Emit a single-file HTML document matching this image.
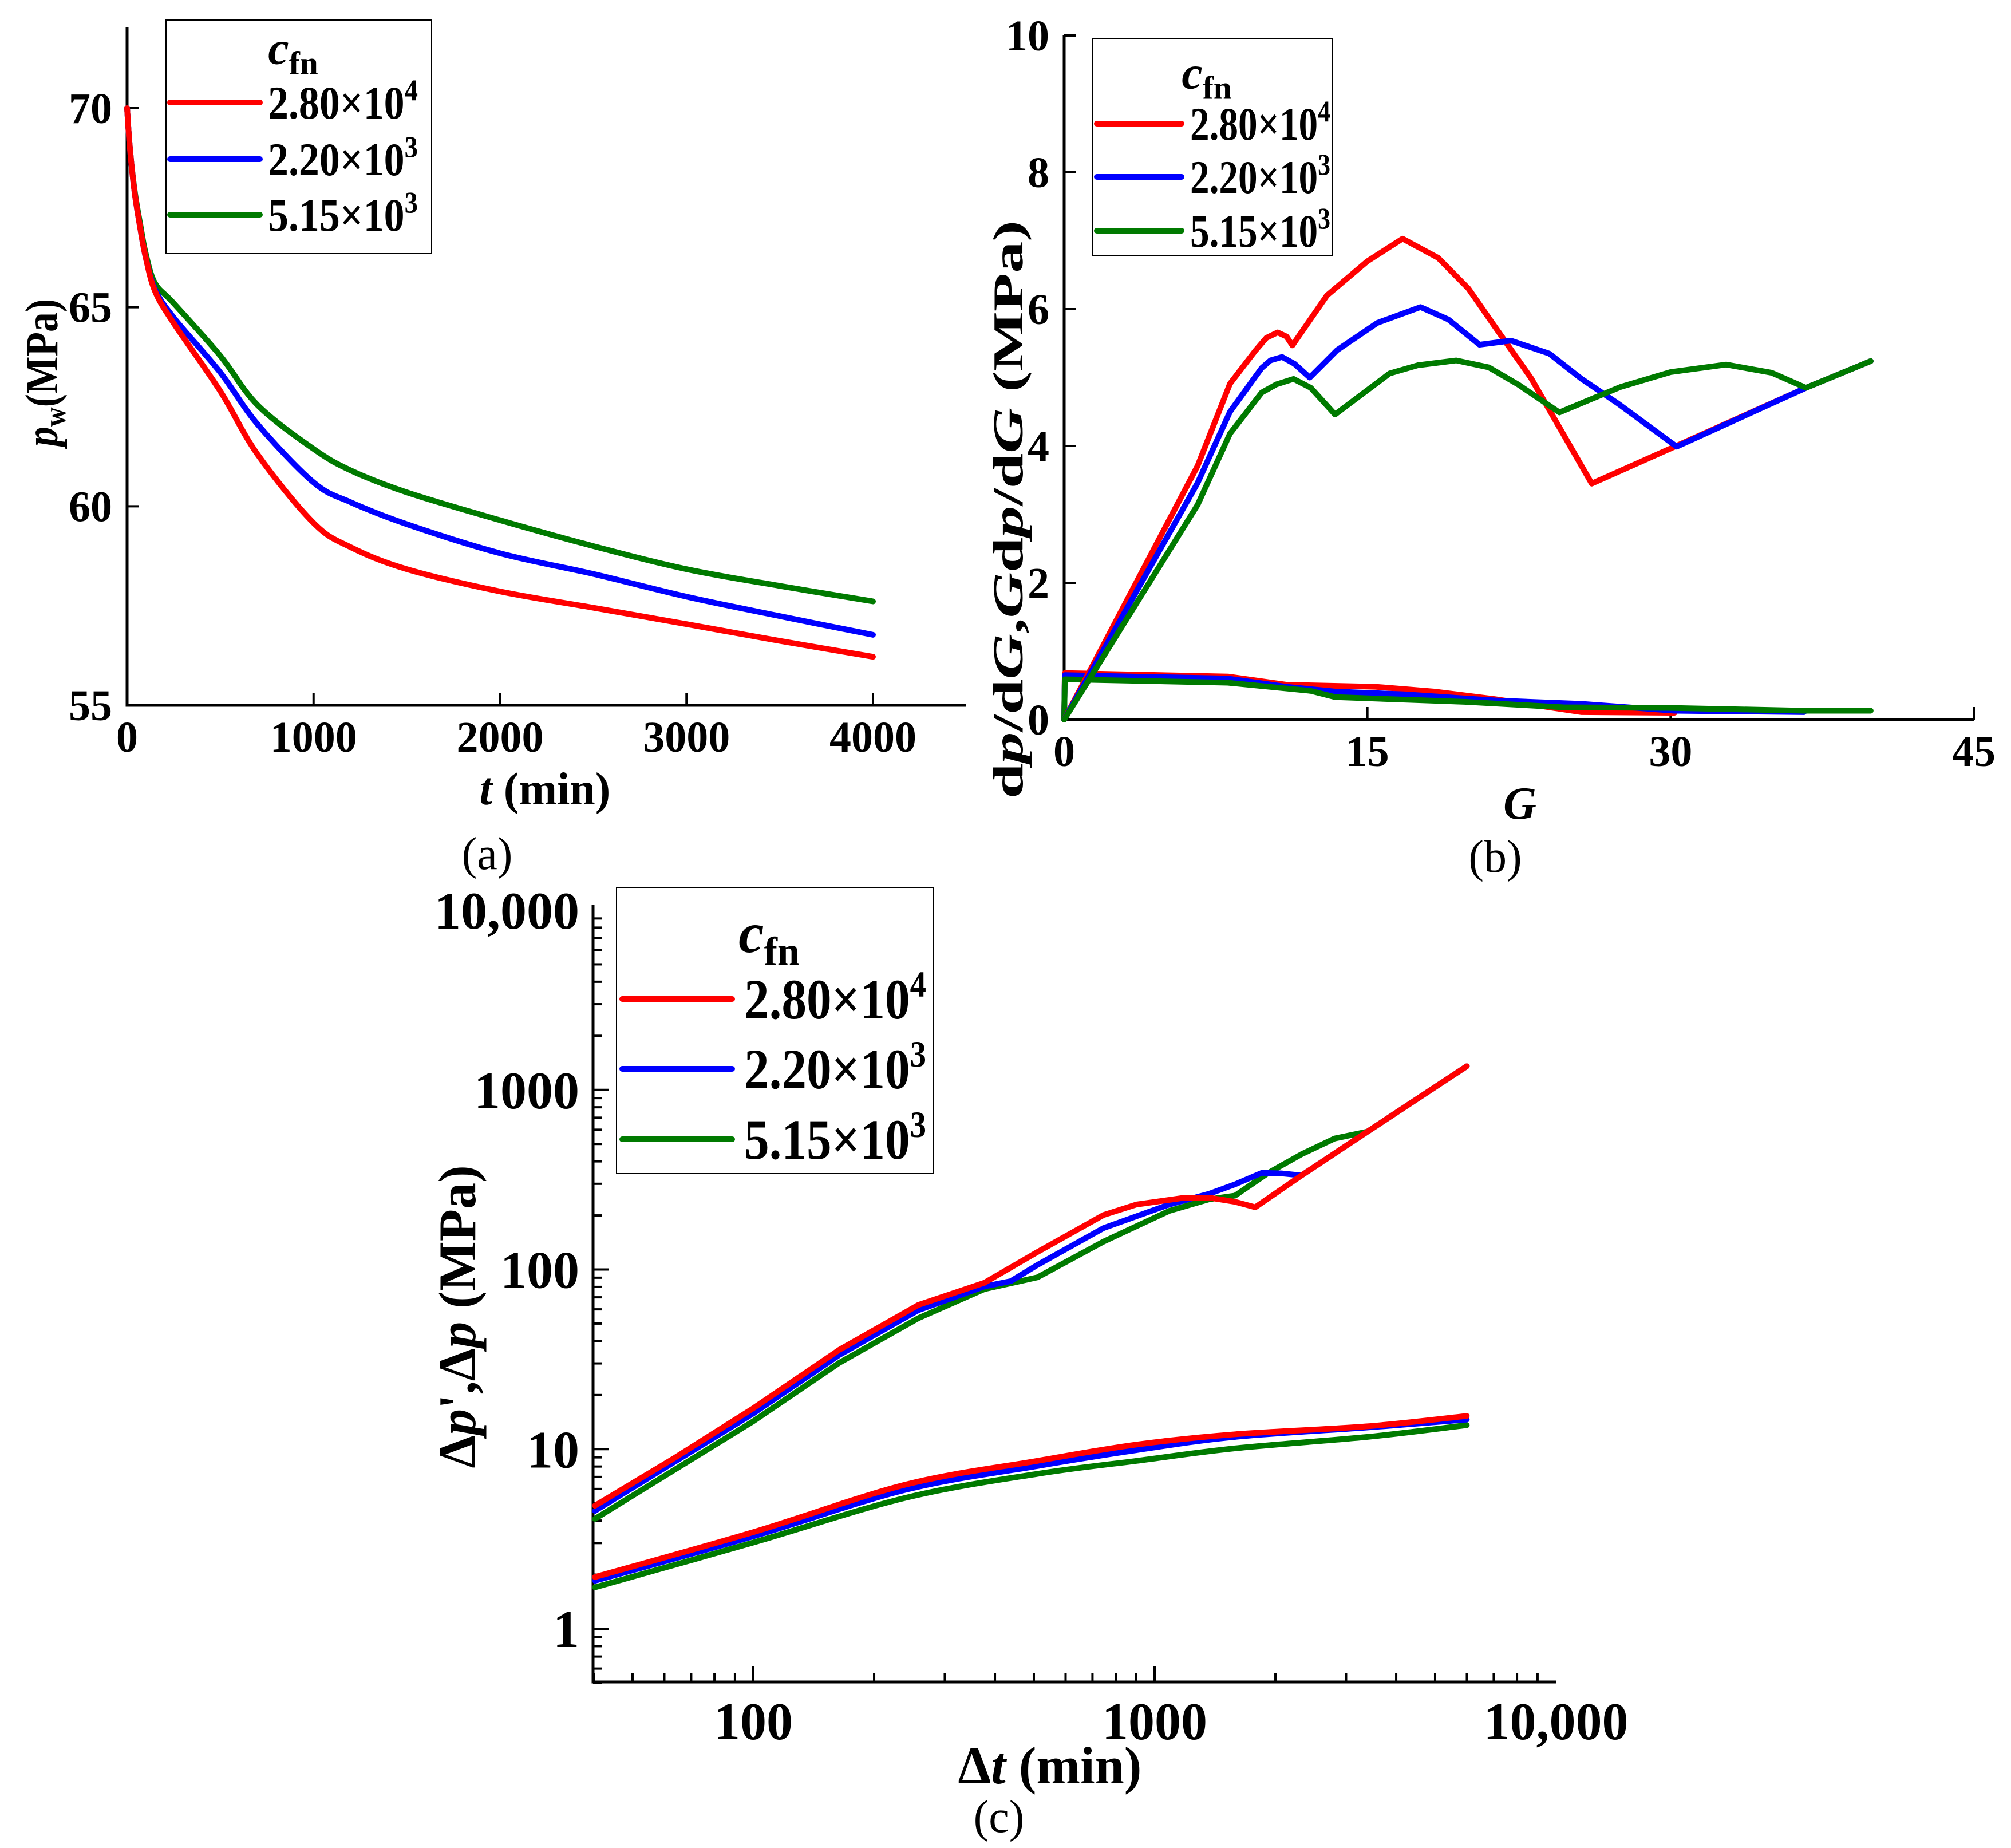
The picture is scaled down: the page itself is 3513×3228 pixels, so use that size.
<!DOCTYPE html>
<html><head><meta charset="utf-8"><style>
html,body{margin:0;padding:0;background:#fff}
svg{display:block;font-family:"Liberation Serif",serif;font-weight:bold}
</style></head><body>
<svg id="fig" width="3513" height="3228" viewBox="0 0 3513 3228" xmlns="http://www.w3.org/2000/svg">
<g id="pa"></g>
<g id="pb"></g>
<g id="pc"></g>
</svg>
<script>
// ---------- Panel (a) data ----------
const aT = [0,15,40,70,100,150,250,500,700,1000,1200,1500,2000,2500,3000,3500,4000];
const aRed = [70,69.0,67.9,67.0,66.25,65.4,64.6,62.89,61.3,59.58,58.97,58.42,57.86,57.45,57.04,56.62,56.22];
const aBlue = [70,69.0,67.9,67.0,66.25,65.45,64.74,63.36,62.06,60.6,60.1,59.55,58.82,58.3,57.73,57.24,56.77];
const aGreen = [70,69.0,67.95,67.1,66.35,65.6,65.1,63.78,62.54,61.44,60.9,60.35,59.65,59.0,58.42,58.0,57.61];
const aXTicks = [0,1000,2000,3000,4000];
const aYTicks = [55,60,65,70];
// ---------- Panel (b) data ----------
const bRedUpG = [0,6.6,8.2,9.45,10,10.56,11,11.29,13,15,16.74,18.5,20,21.2,23.1,26.1,30.2,36.7,39.9];
const bRedUp  = [0,3.71,4.91,5.39,5.58,5.66,5.6,5.47,6.2,6.7,7.03,6.75,6.3,5.79,4.99,3.45,3.99,4.85,5.24];
const bBlueUpG = [0,6.6,8.2,9.77,10.2,10.78,11.4,12.15,13.5,15.5,17.63,19,20.55,22.1,24,25.6,27.4,30.3,36.7,39.9];
const bBlueUp  = [0,3.46,4.5,5.14,5.25,5.3,5.2,5.0,5.4,5.8,6.03,5.85,5.48,5.54,5.35,4.98,4.62,3.99,4.85,5.24];
const bGreenUpG = [0,6.6,8.2,9.77,10.5,11.35,12.2,13.4,16.1,17.5,19.4,21,22.45,24.5,27.5,30,32.75,35,36.7,39.9];
const bGreenUp  = [0,3.14,4.18,4.78,4.9,4.98,4.85,4.46,5.06,5.18,5.25,5.15,4.9,4.49,4.86,5.08,5.19,5.07,4.85,5.24];
const bRedLoG = [0,0.03,8.1,11.0,15.4,18.3,21.3,25.6,30.2];
const bRedLo  = [0,0.68,0.63,0.51,0.48,0.41,0.30,0.11,0.10];
const bBlueLoG = [0,0.03,8.1,11.0,13.4,16.8,21.3,25.6,30.2,36.6];
const bBlueLo  = [0,0.65,0.60,0.48,0.41,0.37,0.28,0.23,0.13,0.11];
const bGreenLoG = [0,0.03,8.1,12.2,13.4,19.8,24.7,30.2,36.6,39.9];
const bGreenLo  = [0,0.59,0.54,0.42,0.33,0.26,0.18,0.17,0.13,0.13];
const bXTicks = [0,15,30,45];
const bYTicks = [0,2,4,6,8,10];
// ---------- Panel (c) data ----------
const cRedUpT = [40.3,63.5,100,163.7,257.9,376.9,510.1,745.7,901,1175,1368,1587,1782,2323,3394,5997];
const cRedUp  = [4.84,8.9,16.9,35.7,63.5,84.4,125,201,230,250,251,238,222,334,586,1355];
const cBlueUpT = [40.3,100,163.7,257.9,376.9,438,510.1,745.7,1088,1368,1587,1849,2070,2323,3394,5997];
const cBlueUp  = [4.53,15.8,33.4,59.4,80.5,86.1,106,170,230,264,298,345,343,334,586,1355];
const cGreenUpT = [40.3,100,163.7,257.9,376.9,510.1,745.7,1088,1368,1587,1920,2323,2809,3394,5997];
const cGreenUp  = [4.09,14.3,30.2,53.6,77.8,90.4,143,212,246,258,345,438,536,586,1355];
const cLoT = [40.3,100,240,510.1,901,1587,3394,5997];
const cRedLo = [1.94,3.45,6.35,8.6,10.6,12.1,13.4,15.3];
const cBlueLo = [1.85,3.27,5.94,8.05,9.87,11.7,13.2,14.6];
const cGreenLo = [1.70,3.02,5.36,7.28,8.6,10.1,11.7,13.6];
const cXTicks = [100,1000,10000];
const cXTickLabels = ["100","1000","10,000"];
const cYTicks = [1,10,100,1000,10000];
const cYTickLabels = ["1","10","100","1000","10,000"];
const legendLabels = [["2.80×10","4"],["2.20×10","3"],["5.15×10","3"]];
const colors = ["#ff0000","#0000ff","#007a00"];

const NS="http://www.w3.org/2000/svg";
function mk(tag,attrs,parent){const e=document.createElementNS(NS,tag);for(const k in attrs)e.setAttribute(k,attrs[k]);parent.appendChild(e);return e;}
function lin(d0,d1,r0,r1){return v=>r0+(v-d0)/(d1-d0)*(r1-r0);}
function logs(d0,d1,r0,r1){const a=Math.log10(d0),b=Math.log10(d1);return v=>r0+(Math.log10(v)-a)/(b-a)*(r1-r0);}
function series(g,xs,ys,sx,sy,color,name,smooth){
  const P=xs.map((x,i)=>[sx(x),sy(ys[i])]);
  let d='M'+P[0][0].toFixed(1)+' '+P[0][1].toFixed(1);
  for(let i=1;i<P.length;i++){
    if(smooth){
      const p0=P[Math.max(i-2,0)],p1=P[i-1],p2=P[i],p3=P[Math.min(i+1,P.length-1)];
      const c1=[p1[0]+(p2[0]-p0[0])/6,p1[1]+(p2[1]-p0[1])/6];
      const c2=[p2[0]-(p3[0]-p1[0])/6,p2[1]-(p3[1]-p1[1])/6];
      d+=` C${c1[0].toFixed(1)} ${c1[1].toFixed(1)} ${c2[0].toFixed(1)} ${c2[1].toFixed(1)} ${p2[0].toFixed(1)} ${p2[1].toFixed(1)}`;
    } else d+=' L'+P[i][0].toFixed(1)+' '+P[i][1].toFixed(1);
  }
  const p=mk('path',{d:d,fill:'none',stroke:color,'stroke-width':10,'stroke-linejoin':'round','stroke-linecap':'round'},g);
  
  
}
function txt(g,x,y,s,size,anchor,name,extra){
  const t=mk('text',Object.assign({x:x,y:y,'font-size':size,'text-anchor':anchor||'middle'},extra||{}),g);
  t.textContent=s;
  
  
  return t;
}
function legend(g,x0,y0,x1,y1,cfnY,lineYs,lx0,lx1,tx,fs,tl){
  const lg=mk('g',{},g);
  
  
  mk('rect',{x:x0,y:y0,width:x1-x0,height:y1-y0,fill:'#fff',stroke:'#000','stroke-width':2},lg);
  const c=mk('text',{x:(x0+x1)/2-10,y:cfnY+fs*0.25,'font-size':fs,'text-anchor':'middle','font-style':'italic'},lg);
  
  
  c.appendChild(document.createTextNode('c'));
  const sub=mk('tspan',{'font-size':fs*0.7,'font-style':'normal',dy:fs*0.22},c); sub.textContent='fn';
  lineYs.forEach((y,i)=>{
    const l=mk('line',{x1:lx0,y1:y,x2:lx1,y2:y,stroke:colors[i],'stroke-width':10,'stroke-linecap':'round'},lg);
    
    
    const t=mk('text',{x:tx,y:y+fs*0.34,'font-size':fs,textLength:tl,lengthAdjust:'spacingAndGlyphs'},lg);
    
    
    t.appendChild(document.createTextNode(legendLabels[i][0]));
    const s=mk('tspan',{'font-size':fs*0.65,dy:-fs*0.38},t); s.textContent=legendLabels[i][1];
  });
}
function axes(g,x0,y0,x1,yTop){
  mk('path',{d:`M${x0} ${yTop} L${x0} ${y0} L${x1} ${y0}`,fill:'none',stroke:'#000','stroke-width':5},g);
}
// ---------- Panel (a) ----------
(function(){
  const g=document.getElementById('pa');
  const sx=lin(0,4000,222,1525), sy=lin(55,70,1232,189);
  axes(g,222,1232,1688,48);
  aXTicks.forEach(v=>{mk('line',{x1:sx(v),y1:1232,x2:sx(v),y2:1210,stroke:'#000','stroke-width':4},g);
    txt(g,sx(v),1313,String(v),76,'middle','x-tick-label');});
  aYTicks.forEach(v=>{mk('line',{x1:222,y1:sy(v),x2:242,y2:sy(v),stroke:'#000','stroke-width':4},g);
    txt(g,196,sy(v)+26,String(v),76,'end','y-tick-label');});
  series(g,aT,aGreen,sx,sy,colors[2],'series-5.15e3',true);
  series(g,aT,aBlue,sx,sy,colors[1],'series-2.20e3',true);
  series(g,aT,aRed,sx,sy,colors[0],'series-2.80e4',true);
  const xl=txt(g,952,1405,'',80,'middle','x-axis-title');
  const it=mk('tspan',{'font-style':'italic'},xl); it.textContent='t'; xl.appendChild(document.createTextNode(' (min)'));
  const yl=txt(g,0,0,'',80,'middle','y-axis-title',{transform:'translate(100,651) rotate(-90)',textLength:258,lengthAdjust:'spacingAndGlyphs'});
  const p=mk('tspan',{'font-style':'italic'},yl); p.textContent='p';
  const w=mk('tspan',{'font-size':54,dy:14},yl); w.textContent='w';
  const m=mk('tspan',{dy:-14},yl); m.textContent='(MPa)';
  legend(g,290,35,754,443,91,[179,278,375],297,454,468,82,262);
  txt(g,851,1518,'(a)',80,'middle','panel-label-a',{'font-weight':'normal'});
})();
// ---------- Panel (b) ----------
(function(){
  const g=document.getElementById('pb');
  const sx=lin(0,45,1859,3448), sy=lin(0,10,1257,62);
  axes(g,1859,1257,3448,62);
  bXTicks.forEach(v=>{mk('line',{x1:sx(v),y1:1257,x2:sx(v),y2:1235,stroke:'#000','stroke-width':4},g);
    txt(g,sx(v),1338,String(v),76,'middle','x-tick-label');});
  bYTicks.forEach(v=>{mk('line',{x1:1859,y1:sy(v),x2:1879,y2:sy(v),stroke:'#000','stroke-width':4},g);
    txt(g,1833,sy(v)+26,String(v),76,'end','y-tick-label');});
  series(g,bRedLoG,bRedLo,sx,sy,colors[0],'dpdG-2.80e4');
  series(g,bBlueLoG,bBlueLo,sx,sy,colors[1],'dpdG-2.20e3');
  series(g,bGreenLoG,bGreenLo,sx,sy,colors[2],'dpdG-5.15e3');
  series(g,bRedUpG,bRedUp,sx,sy,colors[0],'Gdpdg-2.80e4');
  series(g,bBlueUpG,bBlueUp,sx,sy,colors[1],'Gdpdg-2.20e3');
  series(g,bGreenUpG,bGreenUp,sx,sy,colors[2],'Gdpdg-5.15e3');
  txt(g,2655,1430,'G',80,'middle','x-axis-title',{'font-style':'italic'});
  const yl=txt(g,0,0,'',74,'middle','y-axis-title',{transform:'translate(1786,890) rotate(-90)',textLength:1010,lengthAdjust:'spacingAndGlyphs'});
  [['d',0],['p',1],['/d',0],['G',1],[',',0],['G',1],['d',0],['p',1],['/d',0],['G',1],[' (MPa)',0]].forEach(([s,i])=>{
    const t=mk('tspan',i?{'font-style':'italic'}:{},yl); t.textContent=s;});
  legend(g,1909,67,2327,447,134,[216,309,403],1916,2064,2079,82,245);
  txt(g,2612,1523,'(b)',80,'middle','panel-label-b',{'font-weight':'normal'});
})();
// ---------- Panel (c) ----------
(function(){
  const g=document.getElementById('pc');
  const sx=logs(100,10000,1316,2718), sy=logs(1,10000,2845,1590);
  const y0=2938;
  axes(g,1036,y0,2718,1580);
  for(let dec=10;dec<=10000;dec*=10){for(let k=1;k<10;k++){const v=dec*k/10; if(v<40||v>10000)continue;
    const major=(k===1); mk('line',{x1:sx(v),y1:y0,x2:sx(v),y2:y0-(major?28:16),stroke:'#000','stroke-width':4},g);}}
  for(let dec=1;dec<=10000;dec*=10){for(let k=1;k<10;k++){const v=dec*k/10; if(v<0.5||v>10000)continue;
    const major=(k===1); mk('line',{x1:1036,y1:sy(v),x2:1036+(major?28:16),y2:sy(v),stroke:'#000','stroke-width':4},g);}}
  cXTicks.forEach((v,i)=>txt(g,sx(v),3038,cXTickLabels[i],92,'middle','x-tick-label'));
  cYTicks.forEach((v,i)=>txt(g,1012,sy(v)+32,cYTickLabels[i],92,'end','y-tick-label'));
  series(g,cLoT,cGreenLo,sx,sy,colors[2],'dp-5.15e3',true);
  series(g,cLoT,cBlueLo,sx,sy,colors[1],'dp-2.20e3',true);
  series(g,cLoT,cRedLo,sx,sy,colors[0],'dp-2.80e4',true);
  series(g,cGreenUpT,cGreenUp,sx,sy,colors[2],'dpprime-5.15e3');
  series(g,cBlueUpT,cBlueUp,sx,sy,colors[1],'dpprime-2.20e3');
  series(g,cRedUpT,cRedUp,sx,sy,colors[0],'dpprime-2.80e4');
  const xl=txt(g,1834,3115,'Δ',92,'middle','x-axis-title');
  const it=mk('tspan',{'font-style':'italic'},xl); it.textContent='t'; xl.appendChild(document.createTextNode(' (min)'));
  const yl=txt(g,0,0,'',92,'middle','y-axis-title',{transform:'translate(830,2300) rotate(-90)'});
  [['Δ',0],['p',1],["',Δ",0],['p',1],[' (MPa)',0]].forEach(([s,i])=>{const t=mk('tspan',i?{'font-style':'italic'}:{},yl); t.textContent=s;});
  legend(g,1077,1550,1630,2050,1638,[1745,1867,1990],1087,1279,1300,100,318);
  txt(g,1745,3200,'(c)',80,'middle','panel-label-c',{'font-weight':'normal'});
})();
</script>
</body></html>
